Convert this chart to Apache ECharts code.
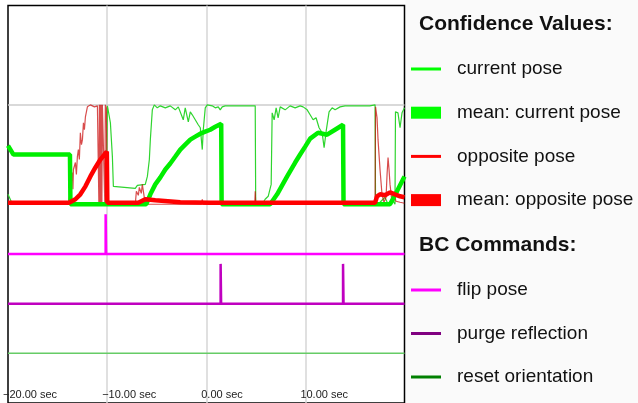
<!DOCTYPE html>
<html>
<head>
<meta charset="utf-8">
<script src="https://cdn.jsdelivr.net/npm/echarts@6/dist/echarts.min.js"></script>
<style>
html, body { margin: 0; padding: 0; background: #fff; }
#chart { width: 638px; height: 403px; }
</style>
</head>
<body>
<div id="chart"></div>
<script>
// time in sec, confidence 0..1
var curT = [-20, -19.55, -10.08, -9.97, -9.87, -9.67, -9.47, -9.37, -9.17, -7.16, -6.95, -6.15, -5.94, -5.74, -5.64, -5.54, -5.44, -5.24, -4.94, -4.63, -4.13, -3.63, -3.12, -2.82, -2.62, -2.32, -2.12, -1.81, -1.61, -1.41, -1.11, -0.81, -0.60, -0.40, -0.30, -0.10, 0.10, 0.60, 0.91, 1.21, 1.41, 1.61, 1.91, 2.92, 3.93, 4.94, 4.99, 5.64, 5.94, 6.25, 6.55, 6.65, 6.85, 7.05, 7.25, 7.46, 7.96, 8.46, 8.97, 9.47, 9.77, 10.18, 10.48, 10.78, 11.08, 11.38, 11.69, 11.89, 12.09, 12.39, 12.70, 13.00, 13.50, 14.00, 14.50, 15.50, 16.50, 17.03, 17.08, 17.53, 18.03, 18.34, 18.74, 19.04, 19.09, 19.34, 19.55, 19.75, 20];
var curV = [0.10, 0, 0, 0.99, 1.0, 0.82, 0.48, 0.18, 0.16, 0.16, 0.19, 0.20, 0.28, 0.45, 0.65, 0.80, 0.95, 1.0, 0.97, 0.99, 0.97, 0.99, 0.95, 0.98, 0.97, 0.85, 0.97, 0.83, 0.93, 0.90, 0.85, 0.80, 0.77, 0.55, 0.75, 0.97, 1.0, 0.99, 0.97, 0.98, 0.95, 0.98, 0.99, 0.99, 0.99, 0.99, 0, 0, 0.05, 0.08, 0.20, 0.92, 0.85, 0.97, 0.87, 0.98, 0.95, 0.99, 0.97, 0.99, 0.98, 0.95, 0.90, 0.85, 0.87, 0.77, 0.72, 0.57, 0.73, 0.93, 0.97, 0.95, 0.98, 0.99, 0.99, 0.99, 0.99, 1.0, 0, 0.02, 0.07, 0, 0.05, 0, 0.93, 0.92, 0.77, 0.92, 0.97];

var meanCurT = [-20, -19.45, -13.75, -13.7, -6.05, -5.64, -5.14, -4.63, -4.13, -3.63, -3.12, -2.62, -2.12, -1.61, -1.11, -0.60, -0.10, 0.40, 0.91, 1.51, 1.55, 6.45, 7.15, 8.16, 8.97, 9.47, 9.98, 10.48, 11.28, 12.19, 12.99, 13.80, 13.85, 18.54, 19.24, 20];
var meanCurV = [0.59, 0.50, 0.50, 0, 0, 0.10, 0.20, 0.27, 0.35, 0.41, 0.48, 0.55, 0.60, 0.65, 0.68, 0.71, 0.73, 0.75, 0.78, 0.81, 0, 0, 0.10, 0.28, 0.42, 0.50, 0.58, 0.66, 0.72, 0.70, 0.75, 0.80, 0, 0, 0.13, 0.28];

var oppT = [-20, -13.9, -13.70, -13.50, -13.45, -13.40, -13.20, -13.10, -13.00, -12.90, -12.80, -12.70, -12.59, -12.49, -12.39, -12.29, -12.19, -11.99, -11.69, -11.28, -10.98, -10.88, -10.83, -10.78, -10.73, -10.68, -10.63, -10.58, -10.53, -10.48, -10.28, -10.23, -10.18, -10.08, -9.98, -7.16, -7.05, -6.85, -6.75, -6.55, -6.45, -6.25, -6.05, -0.50, -0.40, -0.30, 4.89, 4.94, 4.99, 17.03, 17.08, 17.23, 17.33, 17.53, 17.73, 17.93, 18.14, 18.24, 18.34, 18.44, 18.54, 18.74, 18.94, 19.14, 19.55, 20];
var oppV = [0, 0, 0.02, 0.32, 0.15, 0.35, 0.42, 0.30, 0.48, 0.55, 0.45, 0.72, 0.60, 0.65, 0.82, 0.75, 0.88, 0.98, 1.0, 0.98, 0.99, 1.0, 0, 1.0, 0, 1.0, 0, 1.0, 0, 1.0, 0.99, 0, 1.0, 0.97, 0, 0, 0.13, 0.09, 0.17, 0.11, 0.20, 0.07, 0, 0, 0.05, 0, 0, 0.13, 0, 0, 0.98, 0.87, 0.65, 0.35, 0.10, 0.02, 0.07, 0.30, 0.47, 0.35, 0.20, 0.02, 0.12, 0.03, 0.02, 0.01];

var meanOppT = [-20, -13.85, -13.70, -13.20, -12.70, -12.19, -11.69, -11.18, -10.68, -10.28, -10.03, -9.98, -6.85, -6.15, -5.14, -2.62, 0.40, 17.03, 17.23, 17.53, 18.03, 18.54, 19.04, 19.55, 20];
var meanOppV = [0.015, 0.015, 0.02, 0.05, 0.10, 0.18, 0.28, 0.37, 0.45, 0.50, 0.53, 0.015, 0.015, 0.05, 0.04, 0.02, 0.015, 0.015, 0.08, 0.10, 0.09, 0.12, 0.10, 0.08, 0.07];

// BC commands (0 = idle, 1 = issued)
var flipT = [-20, -10.15, -10.15, -10.1, -10.1, 20];
var flipV = [0, 0, 1, 1, 0, 0];
var purgeT = [-20, 1.45, 1.45, 1.5, 1.5, 13.8, 13.8, 13.85, 13.85, 20];
var purgeV = [0, 0, 1, 1, 0, 0, 1, 1, 0, 0];
var resetT = [-20, 20];
var resetV = [0, 0];

var FONT = '"Liberation Sans", Arial, sans-serif';
var thinIcon = 'path://M0,0H30V3H0Z';

function pairs(ts, vs) {
  return ts.map(function (t, i) { return [t, vs[i]]; });
}
function line(name, ts, vs, axis, color, width, extra) {
  var s = {
    name: name, type: 'line', yAxisIndex: axis,
    data: pairs(ts, vs),
    symbol: 'none', showSymbol: false, silent: true,
    lineStyle: { color: color, width: width },
    itemStyle: { color: color },
    emphasis: { disabled: true }
  };
  return Object.assign(s, extra || {});
}

var myChart = echarts.init(document.getElementById('chart'));
var option = {
  animation: false,
  backgroundColor: '#fff',
  grid: {
    left: 7.5, top: 5.5, width: 397, height: 400,
    show: true, borderColor: '#000', borderWidth: 1.5, backgroundColor: '#fff'
  },
  xAxis: {
    type: 'value', min: -20, max: 20, interval: 10,
    axisLine: { show: false }, axisTick: { show: false },
    splitLine: { show: true, showMinLine: false, showMaxLine: false, lineStyle: { color: '#d6d6d6', width: 1.5 } },
    axisLabel: {
      inside: true, margin: 3, align: 'left', padding: [0, 0, 0, -5],
      showMaxLabel: false, fontSize: 11, fontFamily: FONT, color: '#222',
      formatter: function (v) { return (v < 0 ? '\u2212' : '') + Math.abs(v).toFixed(2) + ' sec'; }
    }
  },
  // one hidden axis per lane: confidence, flip, purge, reset
  yAxis: [
    { type: 'value', min: -2, max: 2, show: false },
    { type: 'value', min: -3.75, max: 6.25, show: false },
    { type: 'value', min: -2.5, max: 7.5, show: false },
    { type: 'value', min: -1.25, max: 8.75, show: false }
  ],
  legend: [
    {
      orient: 'vertical', left: 411, top: 58, padding: 0,
      itemWidth: 30, itemHeight: 12, itemGap: 21.7, selectedMode: false,
      itemStyle: { borderWidth: 0 },
      textStyle: { fontFamily: FONT, fontSize: 19, color: '#111', lineHeight: 22, padding: [0, 0, 0, 11] },
      data: [
        { name: 'current pose', icon: thinIcon, itemStyle: { color: '#00ff00' } },
        { name: 'mean: current pose', icon: 'rect', itemStyle: { color: '#00ff00' } },
        { name: 'opposite pose', icon: thinIcon, itemStyle: { color: '#ff0000' } },
        { name: 'mean: opposite pose', icon: 'rect', itemStyle: { color: '#ff0000' } }
      ]
    },
    {
      orient: 'vertical', left: 411, top: 279, padding: 0,
      itemWidth: 30, itemHeight: 12, itemGap: 21.5, selectedMode: false,
      itemStyle: { borderWidth: 0 },
      textStyle: { fontFamily: FONT, fontSize: 19, color: '#111', lineHeight: 22, padding: [0, 0, 0, 11] },
      data: [
        { name: 'flip pose', icon: thinIcon, itemStyle: { color: '#ff00ff' } },
        { name: 'purge reflection', icon: thinIcon, itemStyle: { color: '#800080' } },
        { name: 'reset orientation', icon: thinIcon, itemStyle: { color: '#008000' } }
      ]
    }
  ],
  graphic: [
    { type: 'rect', silent: true, z: -10, shape: { x: 405.5, y: 0, width: 233, height: 403 }, style: { fill: '#fafafa' } },
    { type: 'text', silent: true, x: 419, y: 24, style: { text: 'Confidence Values:', font: 'bold 21px ' + FONT, fill: '#111', verticalAlign: 'middle' } },
    { type: 'text', silent: true, x: 419, y: 245, style: { text: 'BC Commands:', font: 'bold 21px ' + FONT, fill: '#111', verticalAlign: 'middle' } }
  ],
  series: [
    line('current pose', curT, curV, 0, '#2fd42f', 1.2, {
      markLine: {
        silent: true, symbol: 'none', z: 1, label: { show: false },
        lineStyle: { color: '#cccccc', width: 1.5, type: 'solid' },
        data: [{ yAxis: 1 }]
      }
    }),
    line('opposite pose', oppT, oppV, 0, 'rgba(200,0,0,0.7)', 1.2),
    line('mean: current pose', meanCurT, meanCurV, 0, '#00ee00', 4.5),
    line('mean: opposite pose', meanOppT, meanOppV, 0, '#ff0000', 4.5),
    line('flip pose', flipT, flipV, 1, '#ff00ff', 2.5),
    line('purge reflection', purgeT, purgeV, 2, '#c000c0', 2.5),
    line('reset orientation', resetT, resetV, 3, '#66cc66', 1.5)
  ]
};
myChart.setOption(option);
</script>
</body>
</html>
